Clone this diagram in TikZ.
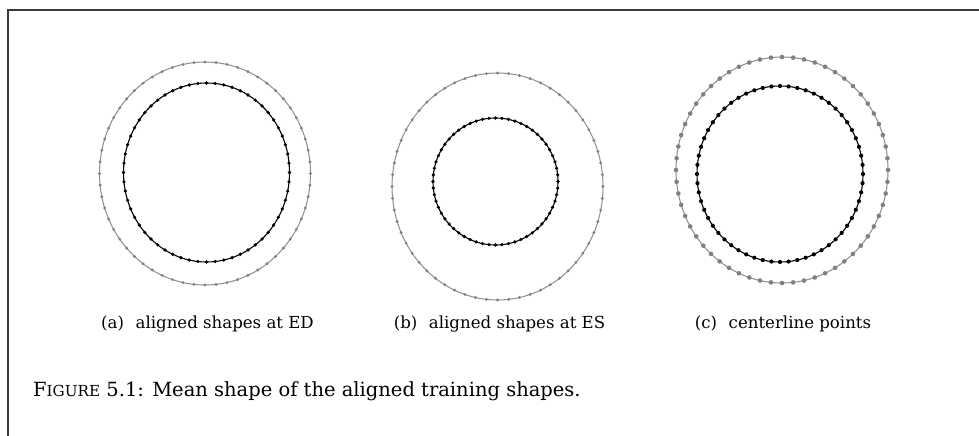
\documentclass[tikz,border=0pt]{standalone}
\usepackage{fontspec}
\setmainfont{DejaVu Serif}
\definecolor{contgray}{HTML}{8C8C8C}
\definecolor{dotgray}{HTML}{808080}
\definecolor{framegray}{HTML}{3A3A3A}
\tikzset{
  outerline/.style={draw=contgray, line width=1pt},
  innerline/.style={draw=black, line width=1.1pt},
  subcap/.style={font=\fontsize{16.6}{19}\selectfont, inner sep=0pt, anchor=base},
  figcap/.style={font=\fontsize{19.5}{23}\selectfont, inner sep=0pt, anchor=base west},
}
% contour with sampled points: cx, cy, rx, ry, line style, dot colour, dot radius
\newcommand\ringwithdots[7]{%
  \draw[#5] (#1,#2) ellipse [x radius=#3pt, y radius=#4pt];
  \foreach \k in {0,...,59}{
    \fill[#6] ({#1+#3*cos(6*\k)},{#2+#4*sin(6*\k)}) circle [radius=#7pt];
  }%
}
\begin{document}
\begin{tikzpicture}[x=1pt,y=-1pt]
  \useasboundingbox (0,0) rectangle (979,436);
  % open frame
  \draw[framegray, line width=1.2pt] (979,10) -- (8,10) -- (8,436);

  % (a) aligned shapes at ED
  \ringwithdots{205}{173.5}{105.5}{111.5}{outerline}{dotgray}{1.6}
  \ringwithdots{206.5}{172.5}{83}{89.5}{innerline}{black}{1.8}
  % (b) aligned shapes at ES
  \ringwithdots{497.5}{186.5}{105.5}{113.5}{outerline}{dotgray}{1.6}
  \ringwithdots{495.5}{181.5}{62.5}{63.5}{innerline}{black}{1.8}
  % (c) centerline points
  \ringwithdots{782}{170}{106}{113}{outerline}{dotgray}{2.3}
  \ringwithdots{780}{174}{83}{88}{innerline}{black}{2.1}

  % sub-captions
  \node[subcap] (capa) at (207.5,328) {(a)\hspace{0.7em}aligned shapes at ED};
  \node[subcap] (capb) at (499.5,328) {(b)\hspace{0.7em}aligned shapes at ES};
  \node[subcap] (capc) at (783,328) {(c)\hspace{0.7em}centerline points};

  % figure caption
  \node[figcap] (figcap) at (33,396)
    {F{\fontsize{15.2}{18}\selectfont IGURE} 5.1: Mean shape of the aligned training shapes.};
\end{tikzpicture}
\end{document}
